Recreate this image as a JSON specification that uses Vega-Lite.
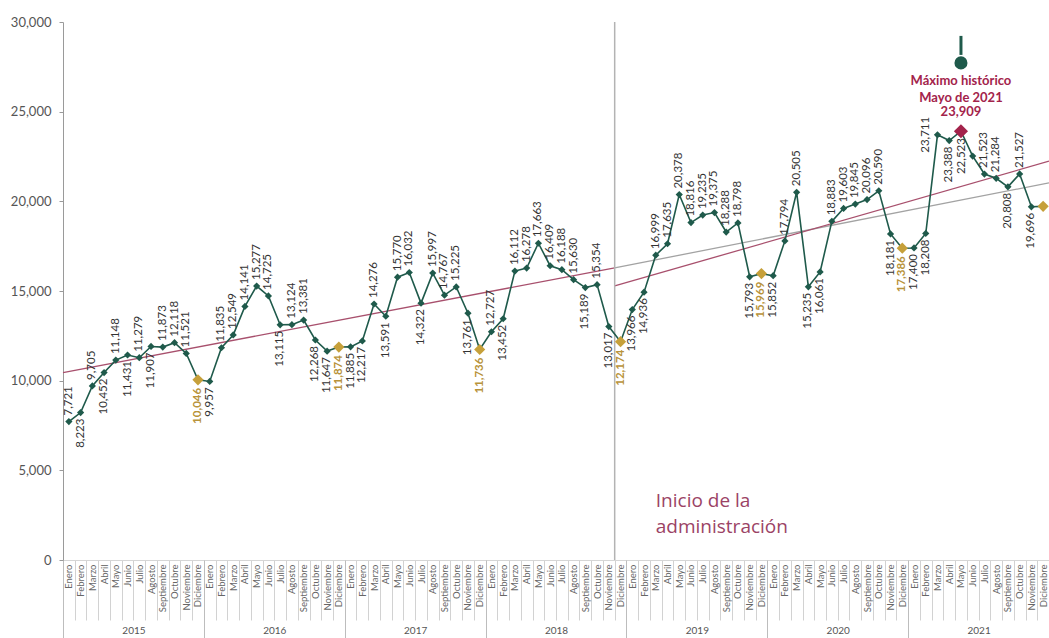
{
  "$schema": "https://vega.github.io/schema/vega-lite/v6.json",
  "width": 986,
  "height": 538,
  "autosize": {"type": "none"},
  "padding": {"left": 63, "top": 22, "right": 0, "bottom": 78},
  "background": "white",
  "config": {"view": {"stroke": null}, "font": "Lato"},
  "datasets": {
    "mensual": [
      {"mes": "2015-01", "valor": 7721, "lado": "arriba"},
      {"mes": "2015-02", "valor": 8223, "lado": "abajo"},
      {"mes": "2015-03", "valor": 9705, "lado": "arriba"},
      {"mes": "2015-04", "valor": 10452, "lado": "abajo"},
      {"mes": "2015-05", "valor": 11148, "lado": "arriba"},
      {"mes": "2015-06", "valor": 11431, "lado": "abajo"},
      {"mes": "2015-07", "valor": 11279, "lado": "arriba"},
      {"mes": "2015-08", "valor": 11907, "lado": "abajo"},
      {"mes": "2015-09", "valor": 11873, "lado": "arriba"},
      {"mes": "2015-10", "valor": 12118, "lado": "arriba"},
      {"mes": "2015-11", "valor": 11521, "lado": "arriba"},
      {"mes": "2015-12", "valor": 10046, "lado": "abajo"},
      {"mes": "2016-01", "valor": 9957, "lado": "abajo"},
      {"mes": "2016-02", "valor": 11835, "lado": "arriba"},
      {"mes": "2016-03", "valor": 12549, "lado": "arriba"},
      {"mes": "2016-04", "valor": 14141, "lado": "arriba"},
      {"mes": "2016-05", "valor": 15277, "lado": "arriba"},
      {"mes": "2016-06", "valor": 14725, "lado": "arriba"},
      {"mes": "2016-07", "valor": 13115, "lado": "abajo"},
      {"mes": "2016-08", "valor": 13124, "lado": "arriba"},
      {"mes": "2016-09", "valor": 13381, "lado": "arriba"},
      {"mes": "2016-10", "valor": 12268, "lado": "abajo"},
      {"mes": "2016-11", "valor": 11647, "lado": "abajo"},
      {"mes": "2016-12", "valor": 11874, "lado": "abajo"},
      {"mes": "2017-01", "valor": 11885, "lado": "abajo"},
      {"mes": "2017-02", "valor": 12217, "lado": "abajo"},
      {"mes": "2017-03", "valor": 14276, "lado": "arriba"},
      {"mes": "2017-04", "valor": 13591, "lado": "abajo"},
      {"mes": "2017-05", "valor": 15770, "lado": "arriba"},
      {"mes": "2017-06", "valor": 16032, "lado": "arriba"},
      {"mes": "2017-07", "valor": 14322, "lado": "abajo"},
      {"mes": "2017-08", "valor": 15997, "lado": "arriba"},
      {"mes": "2017-09", "valor": 14767, "lado": "arriba"},
      {"mes": "2017-10", "valor": 15225, "lado": "arriba"},
      {"mes": "2017-11", "valor": 13761, "lado": "abajo"},
      {"mes": "2017-12", "valor": 11736, "lado": "abajo"},
      {"mes": "2018-01", "valor": 12727, "lado": "arriba"},
      {"mes": "2018-02", "valor": 13452, "lado": "abajo"},
      {"mes": "2018-03", "valor": 16112, "lado": "arriba"},
      {"mes": "2018-04", "valor": 16278, "lado": "arriba"},
      {"mes": "2018-05", "valor": 17663, "lado": "arriba"},
      {"mes": "2018-06", "valor": 16409, "lado": "arriba"},
      {"mes": "2018-07", "valor": 16188, "lado": "arriba"},
      {"mes": "2018-08", "valor": 15630, "lado": "arriba"},
      {"mes": "2018-09", "valor": 15189, "lado": "abajo"},
      {"mes": "2018-10", "valor": 15354, "lado": "arriba"},
      {"mes": "2018-11", "valor": 13017, "lado": "abajo"},
      {"mes": "2018-12", "valor": 12174, "lado": "abajo"},
      {"mes": "2019-01", "valor": 13966, "lado": "abajo"},
      {"mes": "2019-02", "valor": 14936, "lado": "abajo"},
      {"mes": "2019-03", "valor": 16999, "lado": "arriba"},
      {"mes": "2019-04", "valor": 17635, "lado": "arriba"},
      {"mes": "2019-05", "valor": 20378, "lado": "arriba"},
      {"mes": "2019-06", "valor": 18816, "lado": "arriba"},
      {"mes": "2019-07", "valor": 19235, "lado": "arriba"},
      {"mes": "2019-08", "valor": 19375, "lado": "arriba"},
      {"mes": "2019-09", "valor": 18288, "lado": "arriba"},
      {"mes": "2019-10", "valor": 18798, "lado": "arriba"},
      {"mes": "2019-11", "valor": 15793, "lado": "abajo"},
      {"mes": "2019-12", "valor": 15969, "lado": "abajo"},
      {"mes": "2020-01", "valor": 15852, "lado": "abajo"},
      {"mes": "2020-02", "valor": 17794, "lado": "arriba"},
      {"mes": "2020-03", "valor": 20505, "lado": "arriba"},
      {"mes": "2020-04", "valor": 15235, "lado": "abajo"},
      {"mes": "2020-05", "valor": 16061, "lado": "abajo"},
      {"mes": "2020-06", "valor": 18883, "lado": "arriba"},
      {"mes": "2020-07", "valor": 19603, "lado": "arriba"},
      {"mes": "2020-08", "valor": 19845, "lado": "arriba"},
      {"mes": "2020-09", "valor": 20096, "lado": "arriba"},
      {"mes": "2020-10", "valor": 20590, "lado": "arriba"},
      {"mes": "2020-11", "valor": 18181, "lado": "abajo"},
      {"mes": "2020-12", "valor": 17386, "lado": "abajo"},
      {"mes": "2021-01", "valor": 17400, "lado": "abajo"},
      {"mes": "2021-02", "valor": 18208, "lado": "abajo"},
      {"mes": "2021-03", "valor": 23711, "lado": "izquierda"},
      {"mes": "2021-04", "valor": 23388, "lado": "abajo"},
      {"mes": "2021-05", "valor": 23909, "lado": "ninguno"},
      {"mes": "2021-06", "valor": 22523, "lado": "izquierda"},
      {"mes": "2021-07", "valor": 21523, "lado": "arriba"},
      {"mes": "2021-08", "valor": 21284, "lado": "arriba"},
      {"mes": "2021-09", "valor": 20808, "lado": "abajo"},
      {"mes": "2021-10", "valor": 21527, "lado": "arriba"},
      {"mes": "2021-11", "valor": 19696, "lado": "abajo"},
      {"mes": "2021-12", "valor": 19720, "lado": "ninguno"}
    ],
    "tendencias": [
      {"serie": "previa", "desde": "2015-01", "hasta": "2018-11", "v1": 10446, "v2": 16290},
      {"serie": "extension", "desde": "2018-12", "hasta": "2021-12", "v1": 16290, "v2": 21030},
      {"serie": "administracion", "desde": "2018-12", "hasta": "2021-12", "v1": 15280, "v2": 22240}
    ]
  },
  "layer": [
    {
      "data": {"name": "mensual"},
      "layer": [
        {
          "data": {"name": "tendencias"},
          "mark": {"type": "rule", "strokeWidth": 1.3},
          "encoding": {
            "x": {"field": "desde", "type": "ordinal", "bandPosition": 0, "scale": {"type": "band", "paddingInner": 0, "paddingOuter": 0}, "axis": null},
            "x2": {"field": "hasta", "bandPosition": 1},
            "y": {"field": "v1", "type": "quantitative", "scale": {"domain": [0, 30000], "nice": false}},
            "y2": {"field": "v2"},
            "color": {
              "field": "serie",
              "type": "nominal",
              "scale": {"domain": ["previa", "extension", "administracion"], "range": ["#a8506d", "#a3a3a3", "#a8506d"]},
              "legend": null
            }
          }
        },
        {
          "transform": [{"filter": "datum.mes === '2018-12'"}],
          "mark": {"type": "rule", "color": "#b3b3b3", "strokeWidth": 1.5},
          "encoding": {
            "x": {"field": "mes", "type": "ordinal", "bandPosition": 0, "scale": {"type": "band", "paddingInner": 0, "paddingOuter": 0}, "axis": null}
          }
        },
        {
          "mark": {"type": "line", "color": "#1f5a4b", "strokeWidth": 1.6},
          "encoding": {
            "x": {"field": "mes", "type": "ordinal", "scale": {"type": "band", "paddingInner": 0, "paddingOuter": 0}, "axis": null},
            "y": {
              "field": "valor",
              "type": "quantitative",
              "scale": {"domain": [0, 30000], "nice": false},
              "axis": {
                "orient": "left",
                "title": null,
                "values": [0, 5000, 10000, 15000, 20000, 25000, 30000],
                "format": ",.0f",
                "grid": false,
                "tickSize": 4,
                "tickColor": "#9a9a9a",
                "domainColor": "#9a9a9a",
                "labelFont": "Lato",
                "labelFontSize": 13,
                "labelColor": "#555555",
                "labelPadding": 8
              }
            }
          }
        },
        {
          "mark": {"type": "point", "shape": "diamond", "filled": true, "opacity": 1},
          "encoding": {
            "x": {"field": "mes", "type": "ordinal", "scale": {"type": "band", "paddingInner": 0, "paddingOuter": 0}, "axis": null},
            "y": {"field": "valor", "type": "quantitative", "scale": {"domain": [0, 30000], "nice": false}},
            "color": {
              "condition": [
                {"test": "datum.mes === '2021-05'", "value": "#a3234b"},
                {"test": "slice(datum.mes, 5) === '12'", "value": "#c6a03a"}
              ],
              "value": "#1f5a4b"
            },
            "size": {
              "condition": [
                {"test": "datum.mes === '2021-05'", "value": 200},
                {"test": "slice(datum.mes, 5) === '12'", "value": 125}
              ],
              "value": 52
            }
          }
        },
        {
          "transform": [{"filter": "datum.lado === 'arriba'"}],
          "mark": {"type": "text", "angle": 270, "align": "left", "baseline": "middle", "dx": 6, "font": "Lato", "fontSize": 11.5, "color": "#333333"},
          "encoding": {
            "x": {"field": "mes", "type": "ordinal", "scale": {"type": "band", "paddingInner": 0, "paddingOuter": 0}, "axis": null},
            "y": {"field": "valor", "type": "quantitative", "scale": {"domain": [0, 30000], "nice": false}},
            "text": {"field": "valor", "type": "quantitative", "format": ",.0f"}
          }
        },
        {
          "transform": [{"filter": "datum.lado === 'abajo' && slice(datum.mes, 5) !== '12'"}],
          "mark": {"type": "text", "angle": 270, "align": "right", "baseline": "middle", "dx": -6, "font": "Lato", "fontSize": 11.5, "color": "#333333"},
          "encoding": {
            "x": {"field": "mes", "type": "ordinal", "scale": {"type": "band", "paddingInner": 0, "paddingOuter": 0}, "axis": null},
            "y": {"field": "valor", "type": "quantitative", "scale": {"domain": [0, 30000], "nice": false}},
            "text": {"field": "valor", "type": "quantitative", "format": ",.0f"}
          }
        },
        {
          "transform": [{"filter": "datum.lado === 'abajo' && slice(datum.mes, 5) === '12'"}],
          "mark": {"type": "text", "angle": 270, "align": "right", "baseline": "middle", "dx": -8, "font": "Lato", "fontSize": 11.5, "fontWeight": "bold", "color": "#b8933a"},
          "encoding": {
            "x": {"field": "mes", "type": "ordinal", "scale": {"type": "band", "paddingInner": 0, "paddingOuter": 0}, "axis": null},
            "y": {"field": "valor", "type": "quantitative", "scale": {"domain": [0, 30000], "nice": false}},
            "text": {"field": "valor", "type": "quantitative", "format": ",.0f"}
          }
        },
        {
          "transform": [{"filter": "datum.lado === 'izquierda'"}],
          "mark": {"type": "text", "angle": 270, "align": "center", "baseline": "middle", "dy": -11, "font": "Lato", "fontSize": 11.5, "color": "#333333"},
          "encoding": {
            "x": {"field": "mes", "type": "ordinal", "scale": {"type": "band", "paddingInner": 0, "paddingOuter": 0}, "axis": null},
            "y": {"field": "valor", "type": "quantitative", "scale": {"domain": [0, 30000], "nice": false}},
            "text": {"field": "valor", "type": "quantitative", "format": ",.0f"}
          }
        },
        {
          "transform": [{"filter": "datum.mes === '2021-05'"}],
          "mark": {"type": "text", "align": "center", "baseline": "bottom", "dy": -12, "font": "Lato", "fontSize": 13, "fontWeight": "bold", "color": "#a3234b"},
          "encoding": {
            "x": {"field": "mes", "type": "ordinal", "scale": {"type": "band", "paddingInner": 0, "paddingOuter": 0}, "axis": null},
            "y": {"field": "valor", "type": "quantitative", "scale": {"domain": [0, 30000], "nice": false}},
            "text": {"field": "valor", "type": "quantitative", "format": ",.0f"}
          }
        },
        {
          "transform": [{"filter": "datum.mes === '2021-05'"}],
          "mark": {"type": "text", "text": ["Máximo histórico", "Mayo de 2021"], "align": "center", "baseline": "bottom", "dy": -43, "lineHeight": 17, "font": "Lato", "fontSize": 13, "fontWeight": "bold", "color": "#a3234b"},
          "encoding": {
            "x": {"field": "mes", "type": "ordinal", "scale": {"type": "band", "paddingInner": 0, "paddingOuter": 0}, "axis": null},
            "y": {"field": "valor", "type": "quantitative", "scale": {"domain": [0, 30000], "nice": false}}
          }
        },
        {
          "transform": [{"filter": "datum.mes === '2021-05'"}],
          "mark": {"type": "rule", "color": "#1f5a4b", "strokeWidth": 3},
          "encoding": {
            "x": {"field": "mes", "type": "ordinal", "scale": {"type": "band", "paddingInner": 0, "paddingOuter": 0}, "axis": null},
            "y": {"datum": 28165, "type": "quantitative", "scale": {"domain": [0, 30000], "nice": false}},
            "y2": {"datum": 29225}
          }
        },
        {
          "transform": [{"filter": "datum.mes === '2021-05'"}],
          "mark": {"type": "circle", "size": 170, "color": "#1f5a4b", "opacity": 1},
          "encoding": {
            "x": {"field": "mes", "type": "ordinal", "scale": {"type": "band", "paddingInner": 0, "paddingOuter": 0}, "axis": null},
            "y": {"datum": 27720, "type": "quantitative", "scale": {"domain": [0, 30000], "nice": false}}
          }
        },
        {
          "transform": [{"filter": "datum.mes === '2019-03'"}],
          "mark": {"type": "text", "text": ["Inicio de la", "administración"], "align": "left", "baseline": "alphabetic", "lineHeight": 26, "font": "Open Sans", "fontSize": 19, "color": "#9b4365"},
          "encoding": {
            "x": {"field": "mes", "type": "ordinal", "scale": {"type": "band", "paddingInner": 0, "paddingOuter": 0}, "axis": null},
            "y": {"datum": 2955, "type": "quantitative", "scale": {"domain": [0, 30000], "nice": false}}
          }
        }
      ]
    },
    {
      "data": {"name": "mensual"},
      "mark": {"type": "point", "opacity": 0},
      "encoding": {
        "x": {
          "field": "mes",
          "type": "ordinal",
          "scale": {"type": "band", "paddingInner": 0, "paddingOuter": 0},
          "axis": {
            "orient": "bottom",
            "title": null,
            "labelAngle": 270,
            "labelAlign": "right",
            "labelBaseline": "middle",
            "labelPadding": -56,
            "tickSize": 60,
            "tickBand": "extent",
            "tickColor": "#d2d2d2",
            "tickWidth": 1,
            "domainColor": "#d6d6d6",
            "labelFont": "Lato",
            "labelFontSize": 9.5,
            "labelColor": "#666666",
            "labelExpr": "isString(datum.value) ? (['Enero','Febrero','Marzo','Abril','Mayo','Junio','Julio','Agosto','Septiembre','Octubre','Noviembre','Diciembre'][toNumber(substring(datum.value, 5, 7)) - 1] || '') : ''"
          }
        }
      }
    },
    {
      "data": {"values": [
        {"anio": "2015"}, {"anio": "2016"}, {"anio": "2017"}, {"anio": "2018"},
        {"anio": "2019"}, {"anio": "2020"}, {"anio": "2021"}
      ]},
      "mark": {"type": "point", "opacity": 0},
      "encoding": {
        "x": {
          "field": "anio",
          "type": "ordinal",
          "scale": {"type": "band", "paddingInner": 0, "paddingOuter": 0},
          "axis": {
            "orient": "bottom",
            "title": null,
            "domain": false,
            "labelAngle": 0,
            "labelAlign": "center",
            "labelBaseline": "top",
            "tickBand": "extent",
            "tickSize": 78,
            "tickColor": "#bdbdbd",
            "tickWidth": 1,
            "labelPadding": -13,
            "labelFont": "Lato",
            "labelFontSize": 10,
            "labelColor": "#555555"
          }
        }
      }
    }
  ],
  "resolve": {"scale": {"x": "independent"}}
}
